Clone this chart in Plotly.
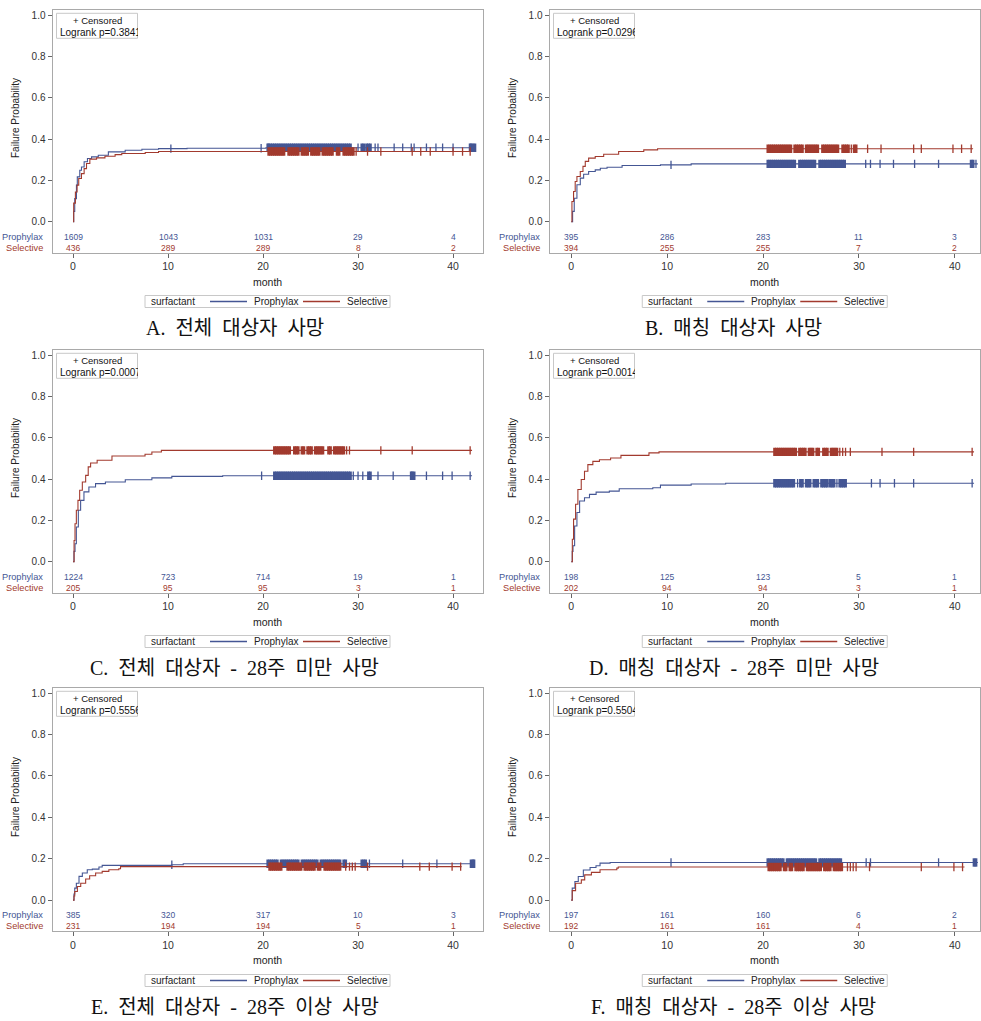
import math
import plotly.graph_objects as go

W, H = 981, 1021
BLUE = '#445694'
RED = '#A23A2E'
FRAME = '#a9a9a9'
TXT = '#333333'
FONT = 'Liberation Sans, Arial, sans-serif'
CAPFONT = 'Liberation Serif, Noto Sans CJK KR, serif'
SP = ' \u00a0'  # wide word gap used in the captions

# ---------------- data ----------------
risk_times = [0, 10, 20, 30, 40]
month_ticks = [0, 10, 20, 30, 40]
prob_ticks = [0.0, 0.2, 0.4, 0.6, 0.8, 1.0]
prob_labels = ['0.0', '0.2', '0.4', '0.6', '0.8', '1.0']
groups = ['Prophylax', 'Selective']

# Panel A
A_pro_t = [0, 0.07, 0.18, 0.36, 0.45, 0.71, 0.89, 1.17, 1.52, 1.95, 2.66, 3.72, 5.49, 7.25, 9.0, 12.0, 20.3, 42.4]
A_pro_f = [0, 0.05, 0.112, 0.177, 0.217, 0.249, 0.265, 0.29, 0.306, 0.314, 0.322, 0.338, 0.346, 0.351, 0.354, 0.356, 0.358, 0.358]
A_sel_t = [0, 0.07, 0.25, 0.43, 0.6, 0.89, 1.17, 1.42, 1.77, 2.48, 3.36, 4.43, 5.13, 7.6, 9.0, 41.9]
A_sel_f = [0, 0.09, 0.144, 0.177, 0.209, 0.233, 0.257, 0.282, 0.303, 0.309, 0.317, 0.325, 0.330, 0.335, 0.340, 0.340]
A_pro_c = [10.3, 19.8, 20.5, 20.6, 20.8, 21.0, 21.2, 21.4, 21.6, 21.8, 22.0, 22.2, 22.4, 22.6, 22.8, 23.0, 23.2, 23.4,
           23.6, 23.8, 24.0, 24.2, 24.4, 24.6, 24.8, 25.0, 25.2, 25.4, 25.6, 25.8, 26.0, 26.2, 26.4, 26.6, 26.8, 27.0,
           27.2, 27.4, 27.6, 27.8, 28.0, 28.2, 28.4, 28.6, 28.8, 29.0, 29.2, 30.0, 30.4, 30.6, 30.9, 31.1, 31.3, 31.8,
           32.1, 33.8, 34.7, 35.6, 35.9, 37.2, 38.2, 38.9, 40.0, 41.8, 41.9, 42.1, 42.3]
A_sel_c = [20.6, 20.8, 21.0, 21.2, 21.4, 21.6, 21.8, 22.0, 22.2, 22.7, 22.9, 23.1, 23.3, 23.5, 23.7, 24.1, 24.3, 24.5,
           24.7, 25.1, 25.3, 25.5, 25.7, 25.9, 26.3, 26.5, 26.7, 26.9, 27.1, 27.3, 27.8, 28.0, 28.5, 28.7, 28.9, 29.1,
           29.3, 29.5, 29.8, 31.0, 32.4, 35.7, 36.6, 37.6, 40.0, 41.0, 41.8]
A_pro_risk = [1609, 1043, 1031, 29, 4]
A_sel_risk = [436, 289, 289, 8, 2]
A_p = 'Logrank p=0.3841'
A_cap = 'A.' + SP + '전체' + SP + '대상자' + SP + '사망'

# Panel B
B_pro_t = [0, 0.14, 0.31, 0.59, 0.94, 1.29, 1.81, 2.5, 3.03, 3.73, 5.3, 9.3, 12.5, 42.4]
B_pro_f = [0, 0.05, 0.114, 0.179, 0.211, 0.23, 0.243, 0.251, 0.259, 0.264, 0.272, 0.275, 0.28, 0.28]
B_sel_t = [0, 0.07, 0.24, 0.41, 0.59, 0.94, 1.22, 1.46, 1.81, 2.5, 3.38, 4.94, 7.56, 9.0, 41.9]
B_sel_f = [0, 0.098, 0.146, 0.195, 0.219, 0.243, 0.268, 0.292, 0.308, 0.316, 0.327, 0.340, 0.348, 0.353, 0.353]
B_pro_c = [10.4, 20.5, 20.7, 20.9, 21.1, 21.3, 21.5, 21.7, 21.9, 22.1, 22.3, 22.5, 22.7, 22.9, 23.1, 23.3, 23.8, 24.0,
           24.2, 24.4, 24.6, 24.8, 25.0, 25.2, 25.4, 25.9, 26.1, 26.3, 26.5, 26.7, 26.9, 27.1, 27.3, 27.5, 27.7, 27.9,
           28.1, 28.3, 28.5, 30.7, 31.2, 32.2, 33.6, 35.8, 38.3, 41.7, 41.9, 42.2]
B_sel_c = [20.5, 20.7, 20.9, 21.1, 21.3, 21.5, 21.7, 21.9, 22.1, 22.3, 22.5, 22.7, 22.9, 23.3, 23.5, 23.7, 23.9, 24.1,
           24.5, 24.7, 24.9, 25.1, 25.3, 25.5, 25.7, 26.2, 26.4, 26.6, 26.8, 27.0, 27.2, 27.4, 27.6, 27.8, 28.3, 28.5,
           28.7, 28.9, 29.2, 29.5, 29.7, 30.9, 32.3, 35.7, 36.5, 39.8, 40.7, 41.7]
B_pro_risk = [395, 286, 283, 11, 3]
B_sel_risk = [394, 255, 255, 7, 2]
B_p = 'Logrank p=0.0296'
B_cap = 'B.' + SP + '매칭' + SP + '대상자' + SP + '사망'

# Panel C
C_pro_t = [0, 0.1, 0.21, 0.35, 0.56, 0.8, 1.15, 1.67, 2.37, 3.41, 5.5, 8.3, 10.4, 15.75, 42.0]
C_pro_f = [0, 0.05, 0.087, 0.168, 0.249, 0.297, 0.338, 0.362, 0.378, 0.386, 0.397, 0.406, 0.413, 0.416, 0.416]
C_sel_t = [0, 0.11, 0.21, 0.35, 0.52, 0.7, 0.98, 1.33, 1.6, 1.85, 2.54, 4.1, 7.58, 8.3, 9.3, 42.0]
C_sel_f = [0, 0.103, 0.184, 0.249, 0.297, 0.346, 0.386, 0.418, 0.459, 0.478, 0.491, 0.512, 0.520, 0.531, 0.539, 0.539]
C_pro_c = [19.85, 21.2, 21.4, 21.6, 21.8, 22.0, 22.2, 22.4, 22.6, 22.8, 23.0, 23.2, 23.4, 23.6, 23.8, 24.0, 24.2, 24.4,
           24.6, 24.8, 25.0, 25.2, 25.4, 25.6, 25.8, 26.0, 26.2, 26.4, 26.6, 26.8, 27.0, 27.2, 27.4, 27.6, 27.8, 28.0,
           28.2, 28.4, 28.6, 28.8, 29.0, 29.2, 29.5, 30.0, 30.5, 31.1, 31.3, 32.1, 33.7, 35.6, 35.7, 35.9, 37.2, 38.9,
           39.9, 41.8]
C_sel_c = [21.2, 21.4, 21.6, 21.8, 22.0, 22.2, 22.4, 22.6, 22.8, 23.3, 23.5, 23.7, 24.1, 24.3, 24.7, 24.9, 25.1, 25.5,
           25.7, 25.9, 26.1, 26.3, 26.9, 27.1, 27.5, 27.7, 27.9, 28.1, 28.3, 28.5, 28.8, 29.1, 32.4, 35.7, 41.8]
C_pro_risk = [1224, 723, 714, 19, 1]
C_sel_risk = [205, 95, 95, 3, 1]
C_p = 'Logrank p=0.0007'
C_cap = 'C.' + SP + '전체' + SP + '대상자' + SP + '-' + SP + '28주' + SP + '미만' + SP + '사망'

# Panel D
D_pro_t = [0, 0.1, 0.18, 0.35, 0.59, 0.87, 1.38, 1.9, 2.59, 3.97, 5.0, 8.5, 9.3, 12.5, 16.1, 42.0]
D_pro_f = [0, 0.05, 0.077, 0.173, 0.238, 0.294, 0.31, 0.326, 0.337, 0.342, 0.353, 0.358, 0.371, 0.376, 0.38, 0.38]
D_sel_t = [0, 0.11, 0.24, 0.45, 0.69, 1.04, 1.38, 1.73, 2.25, 2.94, 4.1, 5.18, 8.1, 9.15, 42.0]
D_sel_f = [0, 0.109, 0.206, 0.278, 0.35, 0.398, 0.438, 0.47, 0.486, 0.494, 0.502, 0.515, 0.527, 0.532, 0.532]
D_pro_c = [21.2, 21.4, 21.6, 21.8, 22.0, 22.2, 22.4, 22.6, 22.8, 23.0, 23.2, 23.6, 23.9, 24.1, 24.5, 24.7, 24.9, 25.3,
           25.5, 25.7, 26.1, 26.3, 26.5, 26.7, 27.0, 27.2, 27.4, 27.7, 28.0, 28.2, 28.4, 28.6, 31.3, 32.2, 33.7, 35.7,
           41.8]
D_sel_c = [21.2, 21.4, 21.6, 21.8, 22.0, 22.2, 22.4, 22.6, 22.8, 23.0, 23.2, 23.4, 23.8, 24.0, 24.2, 24.4, 24.8, 25.0,
           25.2, 25.6, 25.8, 26.3, 26.5, 26.7, 27.1, 27.3, 27.5, 27.7, 28.0, 28.3, 28.6, 29.1, 32.4, 35.7, 41.8]
D_pro_risk = [198, 125, 123, 5, 1]
D_sel_risk = [202, 94, 94, 3, 1]
D_p = 'Logrank p=0.0014'
D_cap = 'D.' + SP + '매칭' + SP + '대상자' + SP + '-' + SP + '28주' + SP + '미만' + SP + '사망'

# Panel E
E_pro_t = [0, 0.1, 0.18, 0.35, 0.63, 0.98, 1.5, 2.03, 2.73, 3.07, 10.4, 11.6, 42.3]
E_pro_f = [0, 0.03, 0.058, 0.082, 0.115, 0.131, 0.147, 0.15, 0.16, 0.168, 0.171, 0.176, 0.176]
E_sel_t = [0, 0.1, 0.18, 0.46, 0.81, 1.33, 1.75, 2.38, 3.07, 3.77, 4.82, 5.0, 40.9]
E_sel_f = [0, 0.02, 0.042, 0.066, 0.082, 0.102, 0.118, 0.131, 0.139, 0.147, 0.152, 0.162, 0.162]
E_pro_c = [10.4, 20.5, 20.7, 20.9, 21.1, 21.3, 21.5, 21.9, 22.1, 22.3, 22.5, 22.7, 22.9, 23.1, 23.3, 23.5, 23.7, 24.1,
           24.3, 24.5, 24.7, 24.9, 25.1, 25.3, 25.5, 25.7, 26.1, 26.3, 26.5, 26.7, 26.9, 27.1, 27.3, 27.5, 27.7, 27.9,
           28.1, 28.5, 28.7, 30.4, 30.6, 30.8, 31.2, 34.7, 38.3, 41.9, 42.1, 42.2]
E_sel_c = [20.7, 20.9, 21.1, 21.3, 21.5, 21.7, 21.9, 22.6, 22.8, 23.0, 23.2, 23.4, 23.6, 23.8, 24.0, 24.4, 24.6, 24.8,
           25.0, 25.2, 25.4, 25.8, 26.0, 26.5, 26.7, 26.9, 27.1, 27.3, 27.5, 27.7, 27.9, 28.1, 28.7, 29.1, 29.4, 29.7,
           31.0, 36.5, 37.5, 39.9, 40.8]
E_pro_risk = [385, 320, 317, 10, 3]
E_sel_risk = [231, 194, 194, 5, 1]
E_p = 'Logrank p=0.5556'
E_cap = 'E.' + SP + '전체' + SP + '대상자' + SP + '-' + SP + '28주' + SP + '이상' + SP + '사망'

# Panel F
F_pro_t = [0, 0.1, 0.38, 0.73, 1.26, 1.96, 2.58, 3.0, 4.05, 42.4]
F_pro_f = [0, 0.058, 0.09, 0.114, 0.146, 0.158, 0.166, 0.179, 0.182, 0.182]
F_sel_t = [0, 0.1, 0.45, 1.05, 1.4, 2.1, 3.0, 4.75, 4.9, 41.0]
F_sel_f = [0, 0.046, 0.082, 0.098, 0.122, 0.134, 0.147, 0.155, 0.16, 0.16]
F_pro_c = [10.4, 20.5, 20.7, 20.9, 21.1, 21.3, 21.5, 21.7, 21.9, 22.1, 22.5, 22.7, 22.9, 23.1, 23.3, 23.5, 23.7, 23.9,
           24.1, 24.3, 24.5, 24.7, 24.9, 25.1, 25.3, 25.5, 25.9, 26.1, 26.3, 26.5, 26.7, 26.9, 27.1, 27.3, 27.5, 27.7,
           27.9, 28.1, 30.75, 31.2, 38.3, 42.0, 42.2]
F_sel_c = [20.6, 20.8, 21.0, 21.2, 21.4, 21.6, 21.8, 22.2, 22.4, 22.8, 23.0, 23.4, 23.6, 23.8, 24.0, 24.2, 24.6, 24.8,
           25.0, 25.2, 25.4, 25.6, 25.8, 26.0, 26.4, 26.6, 26.8, 27.0, 27.4, 27.6, 27.8, 28.0, 28.2, 28.8, 29.1, 29.4,
           29.7, 31.1, 36.5, 39.9, 40.8]
F_pro_risk = [197, 161, 160, 6, 2]
F_sel_risk = [192, 161, 161, 4, 1]
F_p = 'Logrank p=0.5504'
F_cap = 'F.' + SP + '매칭' + SP + '대상자' + SP + '-' + SP + '28주' + SP + '이상' + SP + '사망'

# ---------------- layout geometry (pixels) ----------------
COLS = [dict(l=52.5, r=482.5, xr=[-2.16, 43.1], cap=234.5, ytitle=15),
        dict(l=549.5, r=980.0, xr=[-2.27, 42.62], cap=733.5, ytitle=512)]
ROWS = [dict(t=10.0, b=252.5, month=281.5, leg=295.5, cap=328.0, ytc=118.0),
        dict(t=350.0, b=592.5, month=621.5, leg=635.5, cap=668.0, ytc=458.0),
        dict(t=688.0, b=931.0, month=960.0, leg=974.5, cap=1006.5, ytc=797.0)]
YR = [-0.149, 1.025]
RISK_Y = [-0.073, -0.126]

panels = [
    (0, 0, A_pro_t, A_pro_f, A_sel_t, A_sel_f, A_pro_c, A_sel_c, A_pro_risk, A_sel_risk, A_p, A_cap),
    (0, 1, B_pro_t, B_pro_f, B_sel_t, B_sel_f, B_pro_c, B_sel_c, B_pro_risk, B_sel_risk, B_p, B_cap),
    (1, 0, C_pro_t, C_pro_f, C_sel_t, C_sel_f, C_pro_c, C_sel_c, C_pro_risk, C_sel_risk, C_p, C_cap),
    (1, 1, D_pro_t, D_pro_f, D_sel_t, D_sel_f, D_pro_c, D_sel_c, D_pro_risk, D_sel_risk, D_p, D_cap),
    (2, 0, E_pro_t, E_pro_f, E_sel_t, E_sel_f, E_pro_c, E_sel_c, E_pro_risk, E_sel_risk, E_p, E_cap),
    (2, 1, F_pro_t, F_pro_f, F_sel_t, F_sel_f, F_pro_c, F_sel_c, F_pro_risk, F_sel_risk, F_p, F_cap),
]


def px(x):
    return x / W


def py(y):
    return 1 - y / H


def step_at(ts, fs, c):
    v = fs[0]
    for t, f in zip(ts, fs):
        if t <= c:
            v = f
    return v


def split_dense(cs):
    dense, sparse = [], []
    for k, v in enumerate(cs):
        near = (k > 0 and v - cs[k - 1] <= 0.25) or (k < len(cs) - 1 and cs[k + 1] - v <= 0.25)
        (dense if near else sparse).append(v)
    return dense, sparse


fig = go.Figure()
annotations = []
shapes = []
layout_axes = {}

for i, (r, c, pt, pf, st, sf, pc, sc, prisk, srisk, ptxt, cap) in enumerate(panels):
    n = i + 1
    xa = 'x' if n == 1 else f'x{n}'
    ya = 'y' if n == 1 else f'y{n}'
    col, row = COLS[c], ROWS[r]

    for ts, fs, cs, colr in [(pt, pf, pc, BLUE), (st, sf, sc, RED)]:
        fig.add_trace(go.Scatter(x=ts, y=fs, mode='lines', xaxis=xa, yaxis=ya,
                                 line=dict(color=colr, width=1.1, shape='hv'),
                                 showlegend=False, hoverinfo='skip'))
        dense, sparse = split_dense(cs)
        for grp, wd in [(dense, 2.8), (sparse, 1.3)]:
            fig.add_trace(go.Scatter(x=grp, y=[step_at(ts, fs, v) for v in grp], mode='markers',
                                     xaxis=xa, yaxis=ya,
                                     marker=dict(symbol='line-ns', size=6, color=colr,
                                                 line=dict(color=colr, width=wd)),
                                     showlegend=False, hoverinfo='skip'))
    # at-risk numbers
    for vals, yv, colr in [(prisk, RISK_Y[0], BLUE), (srisk, RISK_Y[1], RED)]:
        for t, v in zip(risk_times, vals):
            annotations.append(dict(x=t, y=yv, xref=xa, yref=ya, text=str(v), showarrow=False,
                                    font=dict(family=FONT, size=8.5, color=colr),
                                    xanchor='center', yanchor='middle'))
    # at-risk group labels (left of frame)
    y0px = row['t'] + (YR[1] - RISK_Y[0]) / (YR[1] - YR[0]) * (row['b'] - row['t'])
    y1px = row['t'] + (YR[1] - RISK_Y[1]) / (YR[1] - YR[0]) * (row['b'] - row['t'])
    for lab, yy, colr in [(groups[0], y0px, BLUE), (groups[1], y1px, RED)]:
        annotations.append(dict(x=px(col['l'] - 8), y=py(yy), xref='paper', yref='paper', text=lab,
                                showarrow=False, xanchor='right', yanchor='middle',
                                font=dict(family=FONT, size=9.2, color=colr)))

    layout_axes[f'xaxis{n}'] = dict(domain=[px(col['l']), px(col['r'])], range=col['xr'], anchor=ya,
                                    showline=True, mirror=True, linecolor=FRAME, linewidth=1,
                                    ticks='outside', ticklen=4, tickcolor='#666', tickwidth=1,
                                    tickvals=month_ticks, showgrid=False, zeroline=False,
                                    tickfont=dict(family=FONT, size=10.5, color=TXT))
    layout_axes[f'yaxis{n}'] = dict(domain=[py(row['b']), py(row['t'])], range=YR, anchor=xa,
                                    showline=True, mirror=True, linecolor=FRAME, linewidth=1,
                                    ticks='outside', ticklen=4, tickcolor='#666', tickwidth=1,
                                    tickvals=prob_ticks, ticktext=prob_labels, showgrid=False,
                                    zeroline=False, tickfont=dict(family=FONT, size=10, color=TXT))

    # axis titles
    cx = (col['l'] + col['r']) / 2
    annotations.append(dict(x=px(cx), y=py(row['month']), xref='paper', yref='paper', text='month',
                            showarrow=False, xanchor='center', yanchor='middle',
                            font=dict(family=FONT, size=10.5, color='#222')))
    annotations.append(dict(x=px(col['ytitle']), y=py(row['ytc']), xref='paper', yref='paper',
                            text='Failure Probability', textangle=-90, showarrow=False,
                            xanchor='center', yanchor='middle',
                            font=dict(family=FONT, size=10, color='#222')))

    # inset box
    bl, br = col['l'] + 4, col['l'] + 85
    bt, bb = row['t'] + 3.3, row['t'] + 28.3
    shapes.append(dict(type='rect', xref='paper', yref='paper', x0=px(bl), x1=px(br), y0=py(bb), y1=py(bt),
                       line=dict(color='#c8c8c8', width=1), fillcolor='white', layer='above'))
    annotations.append(dict(x=px((bl + br) / 2), y=py(bt + 7.5), xref='paper', yref='paper',
                            text='+ Censored', showarrow=False, xanchor='center', yanchor='middle',
                            font=dict(family=FONT, size=9.5, color='#111')))
    annotations.append(dict(x=px(bl + 2.5), y=py(bt + 19.5), xref='paper', yref='paper',
                            text=ptxt, showarrow=False, xanchor='left', yanchor='middle', align='left',
                            width=br - bl - 3, borderpad=0,
                            font=dict(family=FONT, size=10, color='#111')))

    # legend box
    ll = cx - 122.5
    lt, lb = row['leg'], row['leg'] + 12
    shapes.append(dict(type='rect', xref='paper', yref='paper', x0=px(ll), x1=px(ll + 245),
                       y0=py(lb), y1=py(lt), line=dict(color='#c8c8c8', width=1)))
    lm = (lt + lb) / 2
    lline = math.floor(lm) + 0.5
    annotations.append(dict(x=px(ll + 4), y=py(lm), xref='paper', yref='paper', text='surfactant',
                            showarrow=False, xanchor='left', yanchor='middle',
                            font=dict(family=FONT, size=10, color='#222')))
    shapes.append(dict(type='line', xref='paper', yref='paper', x0=px(ll + 65), x1=px(ll + 102),
                       y0=py(lline), y1=py(lline), line=dict(color=BLUE, width=1.5)))
    annotations.append(dict(x=px(ll + 107), y=py(lm), xref='paper', yref='paper', text=groups[0],
                            showarrow=False, xanchor='left', yanchor='middle',
                            font=dict(family=FONT, size=10, color='#222')))
    shapes.append(dict(type='line', xref='paper', yref='paper', x0=px(ll + 158), x1=px(ll + 195),
                       y0=py(lline), y1=py(lline), line=dict(color=RED, width=1.5)))
    annotations.append(dict(x=px(ll + 200), y=py(lm), xref='paper', yref='paper', text=groups[1],
                            showarrow=False, xanchor='left', yanchor='middle',
                            font=dict(family=FONT, size=10, color='#222')))

    # caption
    annotations.append(dict(x=px(col['cap']), y=py(row['cap']), xref='paper', yref='paper', text=cap,
                            showarrow=False, xanchor='center', yanchor='middle',
                            font=dict(family=CAPFONT, size=20, color='#111')))

fig.update_layout(width=W, height=H, margin=dict(l=0, r=0, t=0, b=0),
                  paper_bgcolor='white', plot_bgcolor='white',
                  annotations=annotations, shapes=shapes, showlegend=False, **layout_axes)

fig.write_html('out.html')
